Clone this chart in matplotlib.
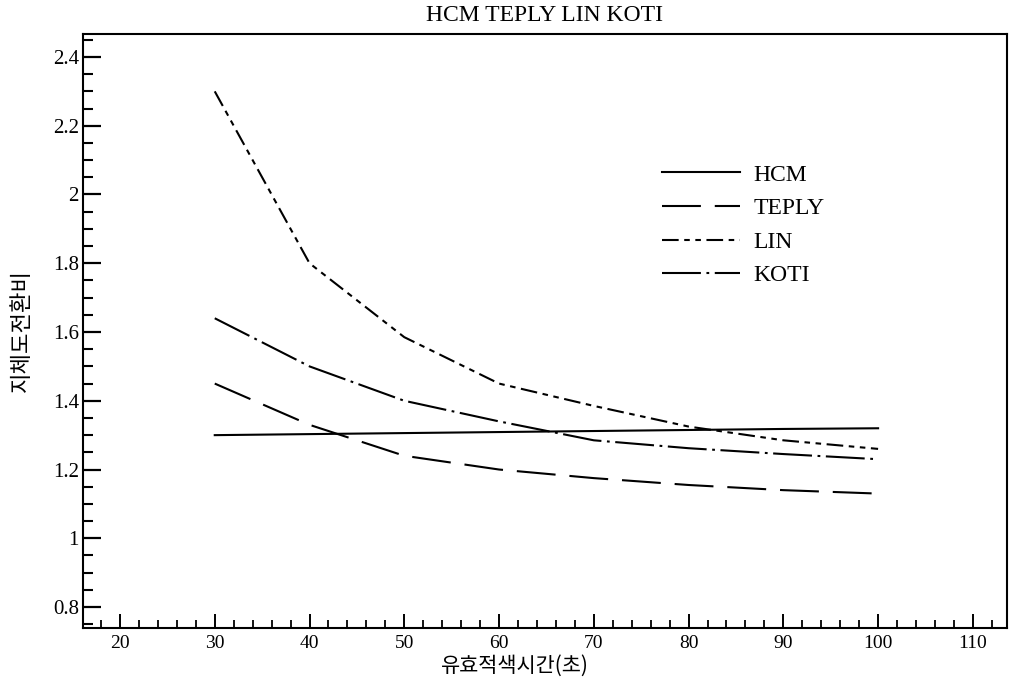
import matplotlib
matplotlib.use("Agg")
import matplotlib.pyplot as plt
from matplotlib.ticker import MultipleLocator

plt.rcParams['lines.scale_dashes'] = False

x = [30, 40, 50, 60, 70, 80, 90, 100]
hcm = [1.300, 1.303, 1.306, 1.309, 1.312, 1.315, 1.318, 1.320]
teply = [1.45, 1.33, 1.24, 1.20, 1.175, 1.155, 1.14, 1.13]
lin = [2.30, 1.80, 1.585, 1.45, 1.385, 1.325, 1.285, 1.26]
koti = [1.64, 1.50, 1.40, 1.34, 1.285, 1.262, 1.245, 1.23]

title = "HCM TEPLY LIN KOTI"
xlabel = "유효적색시간(초)"
ylabel = "지체도전환비"
names = ["HCM", "TEPLY", "LIN", "KOTI"]

serif = ["Liberation Serif", "DejaVu Serif"]
kr = ["Noto Sans CJK KR", "DejaVu Sans"]

fig = plt.figure(figsize=(10.10, 6.79), dpi=100)
ax = fig.add_axes([0.0822, 0.0751, 0.9148, 0.8749])

lw = 1.5
ax.plot(x, hcm, color='black', lw=lw, linestyle='-', label=names[0])
ax.plot(x, teply, color='black', lw=lw, linestyle=(0, (28, 10)), label=names[1])
ax.plot(x, lin, color='black', lw=lw, linestyle=(0, (12, 4, 4, 4, 4, 4)), label=names[2])
ax.plot(x, koti, color='black', lw=lw, linestyle=(0, (28, 4, 2, 4)), label=names[3])

ax.set_xlim(16.1, 113.6)
ax.set_ylim(0.739, 2.467)
ax.xaxis.set_major_locator(MultipleLocator(10))
ax.xaxis.set_minor_locator(MultipleLocator(2))
ax.yaxis.set_major_locator(MultipleLocator(0.2))
ax.yaxis.set_minor_locator(MultipleLocator(0.05))

def yfmt(v, pos):
    s = f"{v:.1f}"
    if s.endswith(".0"):
        s = s[:-2]
    return s
ax.yaxis.set_major_formatter(plt.FuncFormatter(yfmt))

ax.tick_params(axis='y', which='major', direction='in', length=13, width=1.6,
               labelsize=15, pad=3)
ax.tick_params(axis='y', which='minor', direction='in', length=7, width=1.5)
ax.tick_params(axis='x', which='major', direction='in', length=10, width=1.4,
               labelsize=14, pad=5)
ax.tick_params(axis='x', which='minor', direction='in', length=6, width=1.3)
for lab in ax.get_xticklabels() + ax.get_yticklabels():
    lab.set_family(serif)

for sp in ax.spines.values():
    sp.set_linewidth(1.5)

ax.set_title(title, family=serif, fontsize=17, pad=9)
ax.set_xlabel(xlabel, family=kr, fontsize=15, va='center')
ax.xaxis.set_label_coords(0.4675, -0.064)
ax.set_ylabel(ylabel, family=kr, fontsize=16, labelpad=14)

leg = ax.legend(loc='upper left', bbox_to_anchor=(0.604, 0.8165), frameon=False,
                handlelength=3.3, handletextpad=0.55, labelspacing=0.51,
                prop={'family': serif, 'size': 17})

fig.savefig("out.png", dpi=100)
